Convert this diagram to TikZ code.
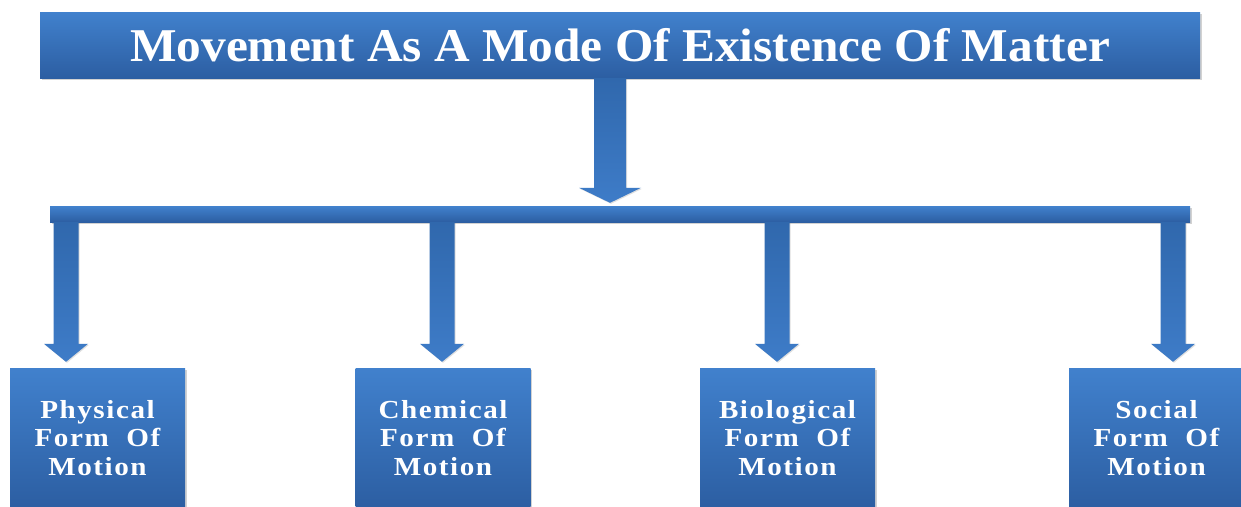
\documentclass[tikz,border=0pt]{standalone}
\usepackage{fontspec}
\setmainfont{Liberation Serif}
\newfontfamily\headfont{Liberation Serif}[FakeStretch=1.05]
\newfontfamily\leaffont{Liberation Serif}[FakeStretch=1.12, LetterSpace=6]
\usetikzlibrary{calc,shadows}

\definecolor{panelTop}{HTML}{4181CD}
\definecolor{panelBot}{HTML}{2C5EA2}
\definecolor{arrowTop}{HTML}{3068AD}
\definecolor{arrowBot}{HTML}{3E7CC8}

% block arrow: from (#1) down to tip (#2); #3 half shaft, #4 half head, #5 head length
\newcommand{\blockarrow}[5]{%
  \path[arrowbody]
    ($(#1)+(-#3,0)$) -- ($(#2)+(-#3,-#5)$) -- ($(#2)+(-#4,-#5)$) -- (#2)
    -- ($(#2)+(#4,-#5)$) -- ($(#2)+(#3,-#5)$) -- ($(#1)+(#3,0)$) -- cycle;}

\tikzset{
  panel/.style={rectangle, inner sep=0pt, top color=panelTop, bottom color=panelBot,
    text=white, align=center,
    drop shadow={opacity=0.35, shadow xshift=1.5pt, shadow yshift=-1.5pt}},
  leaf/.style={panel, minimum width=175pt, minimum height=140pt,
    font=\leaffont\fontsize{26}{28.5}\selectfont\bfseries},
  arrowbody/.style={top color=arrowTop, bottom color=arrowBot,
    drop shadow={opacity=0.25, shadow xshift=1pt, shadow yshift=-1pt}},
}

\begin{document}
\begin{tikzpicture}[x=1pt,y=-1pt]
\useasboundingbox[fill=white] (0,0) rectangle (1241,506);

% heading and distribution bar
\node[panel, minimum width=1160pt, minimum height=66pt,
      font=\headfont\fontsize{47}{47}\selectfont\bfseries] (title) at (620,45)
  {Movement As A Mode Of Existence Of Matter};
\node[panel, minimum width=1140pt, minimum height=16pt] (bar) at (620,214) {};

% the four forms of motion
\node[leaf] (phys) at (97.5,438)  {Physical\\Form\ \ Of\\Motion};
\node[leaf] (chem) at (443,438)   {Chemical\\Form\ \ Of\\Motion};
\node[leaf] (bio)  at (787.5,438) {Biological\\Form\ \ Of\\Motion};
\node[leaf] (soc)  at (1156.5,438){Social\\Form\ \ Of\\Motion};

% arrow columns
\coordinate (cm) at (610,0);
\coordinate (c1) at (66,0);
\coordinate (c2) at (442,0);
\coordinate (c3) at (777,0);
\coordinate (c4) at (1173,0);

\blockarrow{title.south -| cm}{$(bar.north -| cm)+(0,-3)$}{16}{31}{15}
\blockarrow{bar.south -| c1}{$(phys.north -| c1)+(0,-6)$}{12.5}{22}{18}
\blockarrow{bar.south -| c2}{$(chem.north -| c2)+(0,-6)$}{12.5}{22}{18}
\blockarrow{bar.south -| c3}{$(bio.north -| c3)+(0,-6)$}{12.5}{22}{18}
\blockarrow{bar.south -| c4}{$(soc.north -| c4)+(0,-6)$}{12.5}{22}{18}
\end{tikzpicture}
\end{document}
